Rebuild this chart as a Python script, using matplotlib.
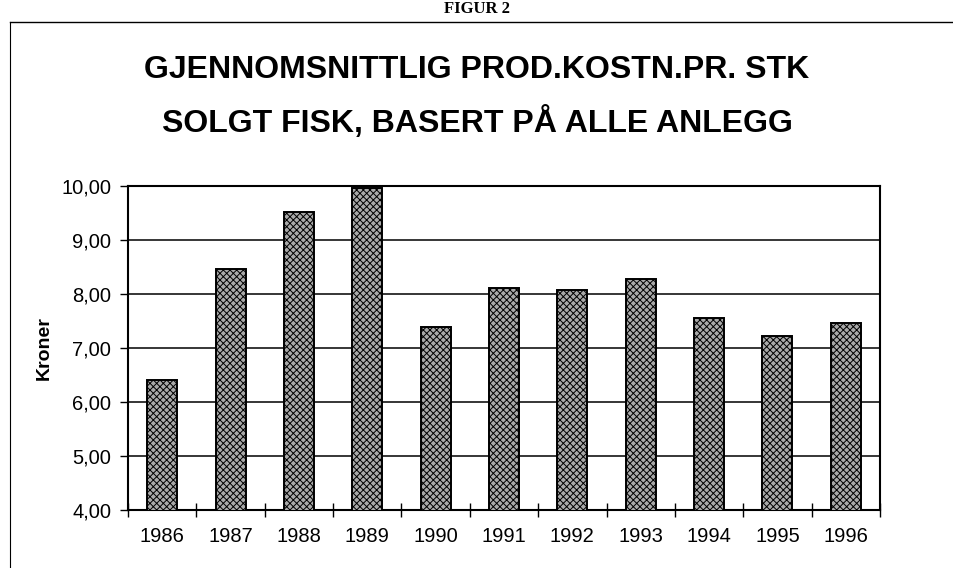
import matplotlib
matplotlib.use("Agg")
import matplotlib.pyplot as plt
import numpy as np

plt.rcParams['font.family'] = ['Liberation Sans', 'DejaVu Sans']
plt.rcParams['hatch.linewidth'] = 0.7

# data
years = ['1986', '1987', '1988', '1989', '1990', '1991',
         '1992', '1993', '1994', '1995', '1996']
kroner = [6.41, 8.47, 9.51, 9.96, 7.38, 8.12, 8.07, 8.28, 7.56, 7.22, 7.46]
yticks = [4, 5, 6, 7, 8, 9, 10]

fig = plt.figure(figsize=(9.54, 5.68), dpi=100)
ax = fig.add_axes([0.1342, 0.1021, 0.7882, 0.5704])

x = np.arange(len(years))
ax.bar(x, kroner, width=0.44, bottom=0, color='#a9a9a9', edgecolor='black',
       linewidth=1.4, hatch='xxxxx', zorder=3)

ax.set_xlim(-0.5, len(years) - 0.5)
ax.set_ylim(4, 10)
ax.set_yticks(yticks)
ax.set_yticklabels([('%.2f' % v).replace('.', ',') for v in yticks])
ax.yaxis.grid(True, color='black', linewidth=1.1, zorder=1)

# category ticks sit between bars, labels in the middle
ax.set_xticks(np.arange(-0.5, len(years), 1.0))
ax.set_xticklabels([])
ax.set_xticks(x, minor=True)
ax.set_xticklabels(years, minor=True)
ax.tick_params(axis='x', which='major', direction='inout', length=10, width=1)
ax.tick_params(axis='x', which='minor', length=0, pad=12, labelsize=14.5)
ax.tick_params(axis='y', direction='out', length=6, width=1, labelsize=14.5, pad=6)

for s in ax.spines.values():
    s.set_linewidth(1.5)

ax.set_ylabel('Kroner', fontsize=14, fontweight='bold', labelpad=6)

fig.text(0.5, 0.877, 'GJENNOMSNITTLIG PROD.KOSTN.PR. STK', ha='center', va='center',
         fontsize=23, fontweight='bold')
fig.text(0.5, 0.785, 'SOLGT FISK, BASERT PÅ ALLE ANLEGG', ha='center', va='center',
         fontsize=23, fontweight='bold')

# scanned page header and frame
fig.text(0.5, 0.999, 'FIGUR 2', ha='center', va='top', fontsize=12,
         fontweight='bold', family=['Liberation Serif', 'DejaVu Serif'])
fig.add_artist(plt.Line2D([0.011, 1.0], [0.962, 0.962], color='black', linewidth=1.0))
fig.add_artist(plt.Line2D([0.011, 0.011], [0.0, 0.962], color='black', linewidth=0.8))

fig.savefig('out.png', dpi=100)
